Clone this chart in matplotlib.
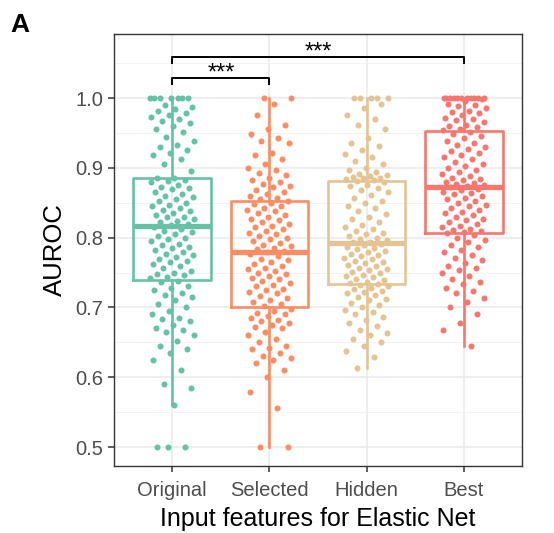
import matplotlib
matplotlib.use("Agg")
import matplotlib.pyplot as plt
import numpy as np

plt.rcParams['font.family'] = ['Liberation Sans', 'DejaVu Sans']

categories = ["Original", "Selected", "Hidden", "Best"]
colors = ["#66C2A5", "#FC8D62", "#E5C494", "#F8766D"]

original = [1.0, 1.0, 1.0, 1.0, 1.0, 1.0, 1.0, 0.99, 0.987, 0.984, 0.981, 0.978, 0.975, 0.973,
            0.97, 0.967, 0.964, 0.96, 0.955, 0.952, 0.944, 0.938, 0.933, 0.93, 0.925, 0.921,
            0.918, 0.912, 0.905, 0.896,
            0.886, 0.885, 0.883, 0.881, 0.879, 0.876, 0.873, 0.871, 0.869, 0.866, 0.862, 0.86,
            0.858, 0.855, 0.852, 0.85, 0.847, 0.845, 0.843, 0.84, 0.838, 0.835, 0.832, 0.83,
            0.829, 0.826, 0.824, 0.822, 0.82, 0.818,
            0.815, 0.813, 0.81, 0.808, 0.805, 0.803, 0.80, 0.798, 0.795, 0.791, 0.79, 0.787,
            0.785, 0.782, 0.78, 0.777, 0.775, 0.772, 0.77, 0.766, 0.765, 0.762, 0.76, 0.757,
            0.752, 0.75, 0.748, 0.746, 0.744, 0.742,
            0.738, 0.736, 0.731, 0.728, 0.725, 0.72, 0.718, 0.715, 0.71, 0.705, 0.70, 0.695,
            0.69, 0.685, 0.683, 0.68, 0.675, 0.67, 0.668, 0.665, 0.66, 0.652, 0.645, 0.64,
            0.635, 0.625, 0.61, 0.59, 0.585, 0.56, 0.5, 0.5, 0.5]

selected = [1.0, 1.0, 0.992, 0.976, 0.962, 0.955, 0.948, 0.942, 0.938, 0.935, 0.921, 0.918,
            0.912, 0.905, 0.90, 0.897, 0.892, 0.89, 0.886, 0.882, 0.88, 0.877, 0.874, 0.872,
            0.868, 0.865, 0.862, 0.86, 0.857, 0.855,
            0.852, 0.85, 0.848, 0.845, 0.842, 0.84, 0.838, 0.835, 0.832, 0.83, 0.827, 0.825,
            0.822, 0.82, 0.817, 0.815, 0.812, 0.81, 0.807, 0.805, 0.802, 0.80, 0.798, 0.795,
            0.792, 0.79, 0.788, 0.785, 0.783, 0.781,
            0.779, 0.776, 0.773, 0.77, 0.768, 0.765, 0.762, 0.76, 0.757, 0.755, 0.752, 0.75,
            0.748, 0.745, 0.742, 0.74, 0.738, 0.735, 0.732, 0.73, 0.727, 0.725, 0.722, 0.72,
            0.717, 0.714, 0.711, 0.708, 0.705, 0.702,
            0.698, 0.695, 0.692, 0.69, 0.688, 0.685, 0.682, 0.68, 0.678, 0.675, 0.672, 0.67,
            0.665, 0.66, 0.655, 0.65, 0.645, 0.642, 0.64, 0.635, 0.63, 0.628, 0.625, 0.62,
            0.61, 0.60, 0.579, 0.556, 0.5, 0.5]

hidden = [1.0, 1.0, 1.0, 1.0, 1.0, 0.992, 0.985, 0.975, 0.97, 0.962, 0.955, 0.942, 0.936,
          0.931, 0.926, 0.92, 0.915, 0.91, 0.905, 0.90, 0.897, 0.894, 0.891, 0.889, 0.888,
          0.887, 0.886, 0.885, 0.884, 0.883,
          0.881, 0.879, 0.876, 0.874, 0.871, 0.868, 0.865, 0.861, 0.857, 0.853, 0.85, 0.846,
          0.842, 0.838, 0.834, 0.83, 0.826, 0.822, 0.818, 0.815, 0.812, 0.81, 0.807, 0.805,
          0.803, 0.80, 0.798, 0.796, 0.794, 0.793,
          0.791, 0.789, 0.787, 0.785, 0.783, 0.781, 0.779, 0.777, 0.775, 0.773, 0.771, 0.769,
          0.767, 0.765, 0.763, 0.761, 0.759, 0.757, 0.755, 0.753, 0.751, 0.749, 0.747, 0.745,
          0.743, 0.741, 0.739, 0.737, 0.735, 0.734,
          0.732, 0.73, 0.728, 0.726, 0.724, 0.722, 0.72, 0.718, 0.715, 0.712, 0.71, 0.707,
          0.704, 0.70, 0.697, 0.694, 0.69, 0.686, 0.682, 0.678, 0.674, 0.668, 0.664, 0.66,
          0.655, 0.65, 0.645, 0.637, 0.629, 0.613]

best = [1.0, 1.0, 1.0, 1.0, 1.0, 1.0, 1.0, 1.0, 1.0, 1.0, 1.0, 0.998, 0.995, 0.992, 0.99,
        0.988, 0.985, 0.982, 0.98, 0.978, 0.975, 0.972, 0.97, 0.968, 0.965, 0.962, 0.96,
        0.958, 0.956, 0.954,
        0.951, 0.948, 0.945, 0.942, 0.939, 0.936, 0.933, 0.93, 0.927, 0.924, 0.921, 0.918,
        0.915, 0.912, 0.909, 0.906, 0.903, 0.90, 0.897, 0.894, 0.891, 0.888, 0.886, 0.884,
        0.882, 0.88, 0.878, 0.877, 0.875, 0.874,
        0.872, 0.87, 0.868, 0.866, 0.864, 0.862, 0.86, 0.857, 0.855, 0.852, 0.85, 0.847,
        0.845, 0.842, 0.84, 0.837, 0.835, 0.832, 0.83, 0.827, 0.825, 0.822, 0.82, 0.817,
        0.815, 0.813, 0.811, 0.809, 0.808, 0.807,
        0.804, 0.80, 0.797, 0.793, 0.79, 0.786, 0.782, 0.779, 0.775, 0.771, 0.768, 0.764,
        0.76, 0.757, 0.753, 0.75, 0.745, 0.741, 0.737, 0.733, 0.728, 0.724, 0.72, 0.714,
        0.708, 0.70, 0.69, 0.678, 0.668, 0.645]

# Box statistics: lower whisker, Q1, median, Q3, upper whisker
whisker_low = [0.56, 0.50, 0.613, 0.645]
q1 = [0.739, 0.700, 0.733, 0.806]
median = [0.817, 0.780, 0.792, 0.873]
q3 = [0.886, 0.853, 0.8815, 0.9527]
whisker_high = [1.0, 1.0, 1.0, 1.0]

# Significance brackets
brackets = [(0, 1, "***"), (0, 3, "***")]
bracket_y = [1.029, 1.059]

series = [original, selected, hidden, best]

fig = plt.figure(figsize=(5.54, 5.33), dpi=100)
ax = fig.add_axes([114/554, 1 - 466/533, (522-114)/554, (466-34)/533])

positions = np.arange(1, len(categories) + 1)

ax.set_ylim(0.4728, 1.0917)
ax.set_xlim(0.4, 4.6)
ax.set_yticks([0.5, 0.6, 0.7, 0.8, 0.9, 1.0])
ax.set_yticks(np.arange(0.55, 1.1, 0.1), minor=True)
ax.set_xticks(positions)
ax.set_xticklabels(categories)
ax.grid(True, which='major', color='#EBEBEB', linewidth=1.2, zorder=0)
ax.grid(True, which='minor', axis='y', color='#F2F2F2', linewidth=0.7, zorder=0)
ax.set_axisbelow(True)

stats = []
for i in range(len(categories)):
    stats.append(dict(whislo=whisker_low[i], q1=q1[i], med=median[i], q3=q3[i],
                      whishi=whisker_high[i], fliers=[]))

for i, st in enumerate(stats):
    c = colors[i]
    ax.bxp([st], positions=[positions[i]], widths=0.8, showfliers=False,
           showcaps=False,
           boxprops=dict(color=c, linewidth=1.9),
           whiskerprops=dict(color=c, linewidth=1.9),
           medianprops=dict(color=c, linewidth=3.8, solid_capstyle='butt'),
           manage_ticks=False, zorder=2)

# jittered points (deterministic horizontal spread)
golden = 0.6180339887
for i, vals in enumerate(series):
    vals = np.asarray(vals)
    n = len(vals)
    offs = ((np.arange(n) * golden + 0.37 * i) % 1.0 - 0.5) * 0.46
    ax.scatter(positions[i] + offs, vals, s=19, color=colors[i], linewidths=0, zorder=3)

# significance brackets
for (a, b, label), y in zip(brackets, bracket_y):
    xa, xb = positions[a], positions[b]
    ax.plot([xa, xa, xb, xb], [y - 0.0105, y, y, y - 0.0105], color='black',
            linewidth=1.4, zorder=4, solid_capstyle='butt')
    ax.text((xa + xb) / 2, y - 0.009, label, ha='center', va='bottom',
            fontsize=17, color='black')

for sp in ax.spines.values():
    sp.set_color('#333333')
    sp.set_linewidth(1.0)

ax.tick_params(axis='both', which='major', length=4, width=1.1, color='#333333',
               labelsize=14.5, labelcolor='#4D4D4D')
ax.tick_params(axis='x', which='major', pad=7)
ax.tick_params(axis='y', which='major', pad=4)
ax.tick_params(axis='both', which='minor', length=0)
ax.set_ylabel("AUROC", fontsize=18.5, labelpad=6)
ax.set_xlabel("Input features for Elastic Net", fontsize=18, labelpad=5)

fig.text(10/554, 1 - 32/533, "A", fontsize=19, fontweight='bold', ha='left', va='baseline')

fig.savefig("out.png", dpi=100)
